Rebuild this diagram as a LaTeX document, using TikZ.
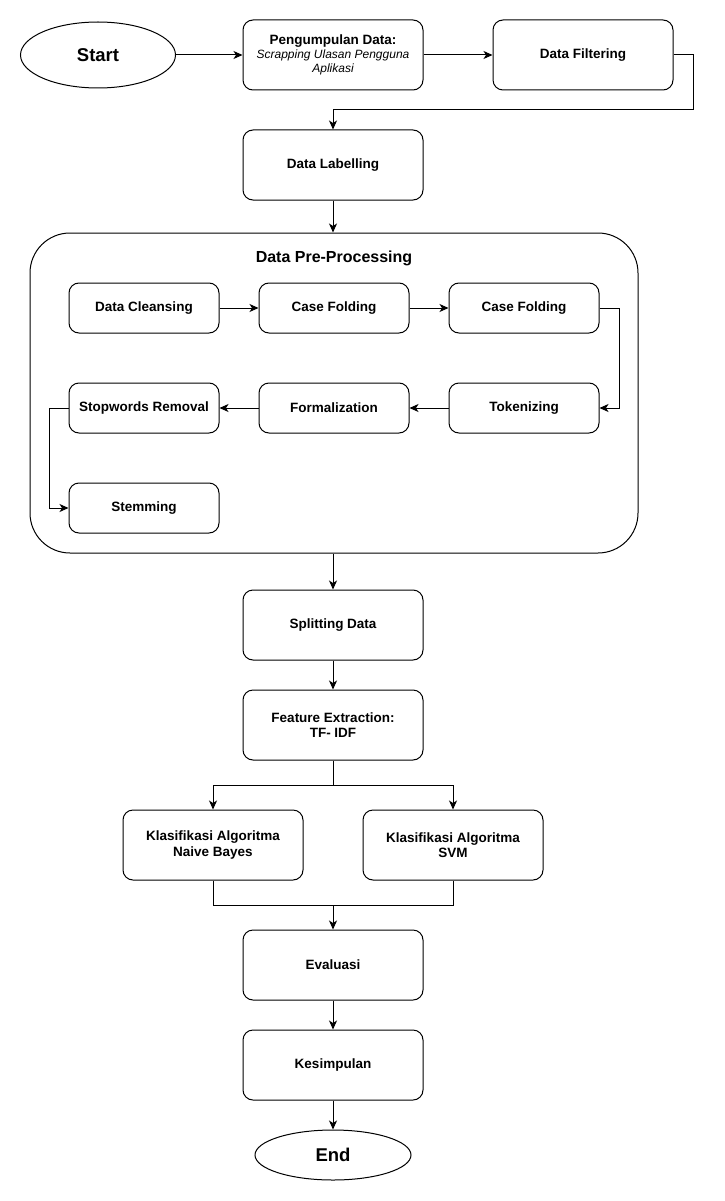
\documentclass[tikz,border=0pt]{standalone}
\usepackage{fontspec}
\setmainfont{Liberation Sans}
\usetikzlibrary{shapes.geometric,arrows.meta,positioning,calc}

\tikzset{
  procbox/.style={draw, rounded corners=10pt, minimum width=180pt, minimum height=70pt,
    align=center, line width=1pt, font=\fontsize{13.5}{15.5}\selectfont\bfseries},
  subbox/.style={procbox, minimum width=150pt, minimum height=50pt},
  terminal/.style={draw, ellipse, line width=1pt, font=\fontsize{18.5}{20}\selectfont\bfseries},
  flow/.style={-{Stealth[length=9pt,width=8pt,inset=2.5pt]}, line width=1pt},
}

\begin{document}
\begin{tikzpicture}[x=1pt,y=-1pt]
    \useasboundingbox (0,0) rectangle (724,1201);
    % top row
    \node[terminal, minimum width=155pt, minimum height=66pt] (start) at (98,55) {Start};
    \node[procbox] (collect) at (333,55) {Pengumpulan Data:\\[-2pt]
      {\fontsize{12}{13}\selectfont\mdseries\itshape Scrapping Ulasan Pengguna}\\[-1pt]
      {\fontsize{12}{13}\selectfont\mdseries\itshape Aplikasi}};
    \node[procbox] (filter) at (583,55) {Data Filtering};
    \node[procbox] (label) at (333,165) {Data Labelling};
    % pre-processing group
    \node[draw, line width=1pt, rounded corners=40pt, minimum width=608pt, minimum height=320pt] (prep) at (334,393) {};
    \node[font=\fontsize{16}{18}\selectfont\bfseries] (preptitle) at (334,258) {Data Pre-Processing};
    \node[subbox] (clean) at (144,308) {Data Cleansing};
    \node[subbox] (fold1) at (334,308) {Case Folding};
    \node[subbox] (fold2) at (524,308) {Case Folding};
    \node[subbox] (token) at (524,408) {Tokenizing};
    \node[subbox] (formal) at (334,408) {Formalization};
    \node[subbox] (stop) at (144,408) {Stopwords Removal};
    \node[subbox] (stem) at (144,508) {Stemming};
    % lower part
    \node[procbox] (split) at (333,625) {Splitting Data};
    \node[procbox] (feat) at (333,725) {Feature Extraction:\\TF- IDF};
    \node[procbox] (nb) at (213,845) {Klasifikasi Algoritma\\Naive Bayes};
    \node[procbox] (svm) at (453,845) {Klasifikasi Algoritma\\SVM};
    \node[procbox] (eval) at (333,965) {Evaluasi};
    \node[procbox] (concl) at (333,1065) {Kesimpulan};
    \node[terminal, minimum width=156pt, minimum height=50pt] (finish) at (333,1155) {End};
    \coordinate (fork) at (333,785);
    \coordinate (merge) at (333,905);

    % connectors
    \draw[flow] (start) -- (collect);
    \draw[flow] (collect) -- (filter);
    \draw[flow] (filter.east) -- ++(20,0) -- ++(0,55) -| (label.north);
    \draw[flow] (label.south) -- (label.south |- prep.north);
    \draw[flow] (clean) -- (fold1);
    \draw[flow] (fold1) -- (fold2);
    \draw[flow] (fold2.east) -- ++(20,0) |- (token.east);
    \draw[flow] (token) -- (formal);
    \draw[flow] (formal) -- (stop);
    \draw[flow] (stop.west) -- ++(-19,0) |- (stem.west);
    \draw[flow] (split.north |- prep.south) -- (split.north);
    \draw[flow] (split) -- (feat);
    \draw (feat.south) -- (fork);
    \draw[flow] (fork) -| (nb.north);
    \draw[flow] (fork) -| (svm.north);
    \draw (nb.south) |- (merge) -| (svm.south);
    \draw[flow] (merge) -- (eval);
    \draw[flow] (eval) -- (concl);
    \draw[flow] (concl) -- (finish);
\end{tikzpicture}
\end{document}
